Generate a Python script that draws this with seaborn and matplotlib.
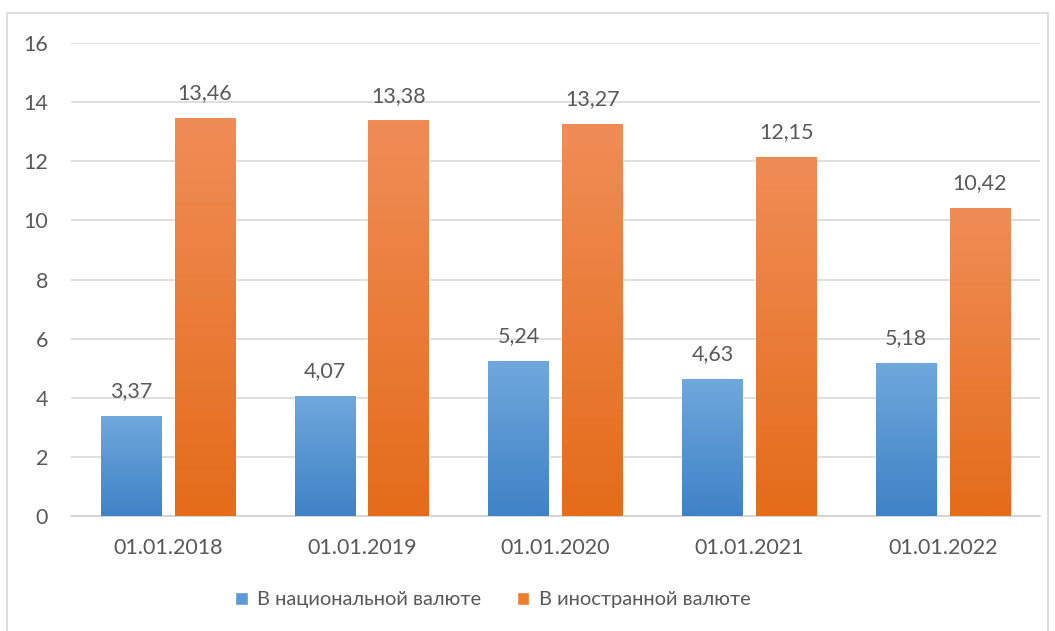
import matplotlib
matplotlib.use("Agg")
import matplotlib.pyplot as plt
import seaborn as sns
import numpy as np
import pandas as pd
from matplotlib.patches import Rectangle
from matplotlib.colors import LinearSegmentedColormap

dates = ["01.01.2018", "01.01.2019", "01.01.2020", "01.01.2021", "01.01.2022"]
national = [3.37, 4.07, 5.24, 4.63, 5.18]
foreign = [13.46, 13.38, 13.27, 12.15, 10.42]
series_names = ["В национальной валюте", "В иностранной валюте"]
yticks = [0, 2, 4, 6, 8, 10, 12, 14, 16]

df = pd.DataFrame({
    "date": dates * 2,
    "value": national + foreign,
    "series": [series_names[0]] * len(dates) + [series_names[1]] * len(dates),
})

sns.set_theme(style="white")
plt.rcParams['font.family'] = ['Lato', 'DejaVu Sans']
text_color = "#595959"
fs = 15.5
lfs = 14.5

fig = plt.figure(figsize=(10.55, 6.31), dpi=100)
ax = fig.add_axes([71/1055, 1-516/631, (1040-71)/1055, (516-43)/631])

colors = {series_names[0]: "#5b9bd5", series_names[1]: "#ed7d31"}
sns.barplot(data=df, x="date", y="value", hue="series", palette=colors,
            width=0.76, gap=0.18, ax=ax, legend=False, errorbar=None,
            saturation=1)

grads = [
    LinearSegmentedColormap.from_list("b", ["#3f82c6", "#6fa8dc"]),
    LinearSegmentedColormap.from_list("o", ["#e46c1a", "#f08d57"]),
]
patches = list(ax.patches)
n = len(dates)
grad = np.linspace(0, 1, 256).reshape(-1, 1)
for i, p in enumerate(patches):
    s = i // n
    x0, y0 = p.get_x(), p.get_y()
    w, h = p.get_width(), p.get_height()
    sh = Rectangle((x0 + 0.006, y0), w, h, facecolor="#000000", alpha=0.08,
                   edgecolor="none", zorder=2)
    ax.add_patch(sh)
    im = ax.imshow(grad, cmap=grads[s], aspect="auto", origin="lower",
                   extent=(x0, x0 + w, y0, y0 + h), zorder=3)
    im.set_clip_path(p)
    p.set_facecolor("none")
    p.set_zorder(3)
    ax.text(x0 + w / 2, h + 0.5, f"{h:.2f}".replace(".", ","), ha="center",
            va="bottom", fontsize=fs, color=text_color, zorder=4)

ax.set_xlim(-0.5, n - 0.5)
ax.set_ylim(0, 16)
ax.set_yticks(yticks)
ax.set_yticklabels([str(t) for t in yticks])
ax.yaxis.grid(True, color="#d9d9d9", linewidth=1.2)
ax.set_axisbelow(True)
for sp in ["top", "right", "left"]:
    ax.spines[sp].set_visible(False)
ax.spines["bottom"].set_color("#d0d0d0")
ax.spines["bottom"].set_linewidth(1.2)
ax.tick_params(axis="y", length=0, pad=16.5, labelsize=fs, labelcolor=text_color)
ax.tick_params(axis="x", length=0, pad=16, labelsize=fs, labelcolor=text_color)
ax.set_xlabel("")
ax.set_ylabel("")

handles = [Rectangle((0, 0), 1, 1, facecolor=colors[s]) for s in series_names]
fig.legend(handles, series_names, loc="center", bbox_to_anchor=(0.467, 1-600/631),
           ncol=2, frameon=False, fontsize=lfs, labelcolor=text_color,
           handlelength=0.62, handleheight=0.62, handletextpad=0.45, columnspacing=1.8)

border = Rectangle((7/1055, -0.05), (1048-7)/1055, 1.05 - 13/631,
                   transform=fig.transFigure, fill=False, edgecolor="#d9d9d9",
                   linewidth=1.2)
fig.patches.append(border)

fig.savefig("out.png", dpi=100, facecolor="white")
